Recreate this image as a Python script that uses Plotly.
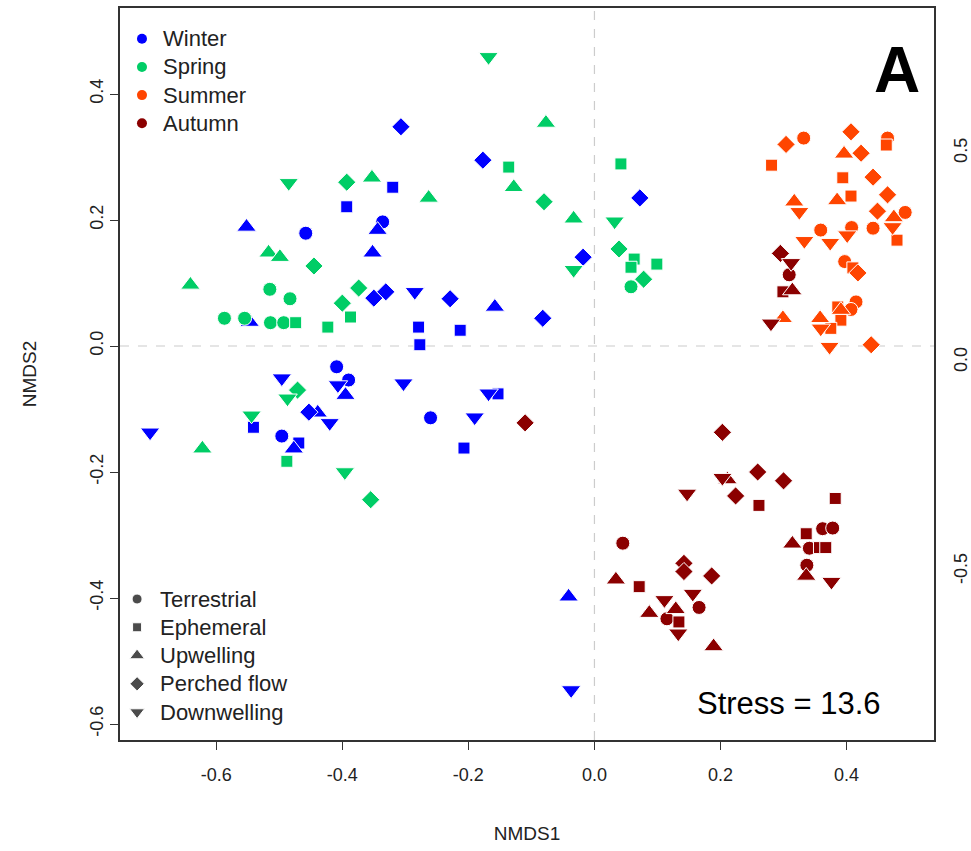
import plotly.graph_objects as go

# ---- NMDS site scores, by season; habitat codes: T, E, U, P, D ----
winter_nmds1 = [-0.458, -0.336, -0.409, -0.390, -0.496, -0.260,
                -0.320, -0.393, -0.279, -0.277, -0.213, -0.541, -0.469, -0.153, -0.207,
                -0.552, -0.344, -0.352, -0.158, -0.547, -0.395, -0.439, -0.477, -0.041,
                -0.307, -0.177, 0.072, -0.018, -0.350, -0.331, -0.229, -0.082, -0.453,
                -0.285, -0.496, -0.407, -0.420, -0.705, -0.303, -0.168, -0.190, -0.037]
winter_nmds2 = [0.179, 0.197, -0.033, -0.054, -0.143, -0.114,
                0.252, 0.221, 0.030, 0.002, 0.025, -0.129, -0.154, -0.076, -0.162,
                0.189, 0.184, 0.148, 0.062, 0.038, -0.078, -0.106, -0.163, -0.398,
                0.348, 0.295, 0.235, 0.141, 0.076, 0.086, 0.075, 0.044, -0.105,
                0.086, -0.051, -0.062, -0.122, -0.137, -0.059, -0.075, -0.113, -0.546]
winter_habitat = ["T"] * 6 + ["E"] * 9 + ["U"] * 9 + ["P"] * 9 + ["D"] * 9

spring_nmds1 = [-0.587, -0.555, -0.515, -0.483, -0.514, -0.493, 0.058,
                -0.474, -0.423, -0.387, -0.136, 0.042, 0.063, 0.058, 0.099, -0.488,
                -0.641, -0.517, -0.499, -0.353, -0.263, -0.128, -0.077, -0.033, -0.622,
                -0.393, -0.445, -0.374, -0.400, -0.080, 0.039, 0.078, -0.471, -0.355,
                -0.485, -0.168, -0.033, 0.032, -0.487, -0.544, -0.396]
spring_nmds2 = [0.044, 0.044, 0.090, 0.075, 0.037, 0.037, 0.094,
                0.037, 0.030, 0.046, 0.284, 0.289, 0.138, 0.125, 0.130, -0.183,
                0.097, 0.148, 0.141, 0.267, 0.235, 0.252, 0.354, 0.202, -0.163,
                0.260, 0.127, 0.092, 0.068, 0.229, 0.154, 0.106, -0.070, -0.244,
                0.259, 0.459, 0.121, 0.198, -0.083, -0.110, -0.200]
spring_habitat = ["T"] * 7 + ["E"] * 9 + ["U"] * 9 + ["P"] * 9 + ["D"] * 7

summer_nmds1 = [0.332, 0.465, 0.493, 0.359, 0.408, 0.442, 0.397, 0.415, 0.407,
                0.281, 0.394, 0.407, 0.480, 0.386, 0.391, 0.375, 0.463, 0.410,
                0.396, 0.385, 0.317, 0.475, 0.299, 0.358, 0.391,
                0.407, 0.304, 0.423, 0.442, 0.465, 0.449, 0.418, 0.439,
                0.325, 0.473, 0.401, 0.333, 0.374, 0.359, 0.373]
summer_nmds2 = [0.330, 0.330, 0.212, 0.184, 0.188, 0.187, 0.134, 0.070, 0.058,
                0.287, 0.267, 0.238, 0.168, 0.062, 0.041, 0.028, 0.319, 0.124,
                0.305, 0.231, 0.229, 0.204, 0.044, 0.044, 0.057,
                0.340, 0.320, 0.306, 0.268, 0.240, 0.214, 0.116, 0.002,
                0.213, 0.189, 0.176, 0.167, 0.164, 0.028, -0.001]
summer_habitat = ["T"] * 9 + ["E"] * 9 + ["U"] * 7 + ["P"] * 8 + ["D"] * 7

autumn_nmds1 = [0.309, 0.045, 0.166, 0.115, 0.362, 0.378, 0.341, 0.337,
                0.299, 0.261, 0.382, 0.336, 0.357, 0.367, 0.071, 0.134,
                0.314, 0.211, 0.314, 0.336, 0.034, 0.087, 0.129, 0.189,
                0.295, -0.110, 0.203, 0.259, 0.300, 0.224, 0.142, 0.186, 0.142,
                0.312, 0.280, 0.203, 0.147, 0.376, 0.111, 0.156, 0.133]
autumn_nmds2 = [0.113, -0.313, -0.415, -0.433, -0.290, -0.289, -0.321, -0.348,
                0.086, -0.253, -0.242, -0.298, -0.320, -0.320, -0.382, -0.438,
                0.088, -0.212, -0.314, -0.365, -0.371, -0.424, -0.418, -0.477,
                0.147, -0.122, -0.137, -0.200, -0.214, -0.238, -0.345, -0.365, -0.358,
                0.132, 0.036, -0.209, -0.234, -0.374, -0.403, -0.393, -0.456]
autumn_habitat = ["T"] * 8 + ["E"] * 8 + ["U"] * 8 + ["P"] * 9 + ["D"] * 8

seasons = ["Winter", "Spring", "Summer", "Autumn"]
season_colors = ["#0000FF", "#00CD66", "#FF4500", "#8B0000"]
habitat_codes = ["T", "E", "U", "P", "D"]
habitat_names = ["Terrestrial", "Ephemeral", "Upwelling", "Perched flow", "Downwelling"]
habitat_symbols = ["circle", "square", "triangle-up", "diamond", "triangle-down"]
habitat_sizes = [14, 12, 17, 14, 17]
habitat_key_sizes = [10, 9, 13, 11, 13]

stress_value = 13.6
panel_letter = "A"

# secondary (right-hand) axis
right_axis_ticks = [-0.5, 0.0, 0.5]
right_axis_labels = ["-0.5", "0.0", "0.5"]
right_axis_range = [-0.904, 0.847]

FONT = "Liberation Sans, Arial, sans-serif"

season_data = [
    (winter_nmds1, winter_nmds2, winter_habitat),
    (spring_nmds1, spring_nmds2, spring_habitat),
    (summer_nmds1, summer_nmds2, summer_habitat),
    (autumn_nmds1, autumn_nmds2, autumn_habitat),
]

fig = go.Figure()

for (xs, ys, habs), season, color in zip(season_data, seasons, season_colors):
    for code, hname, sym, size in zip(habitat_codes, habitat_names, habitat_symbols, habitat_sizes):
        px_ = [x for x, h in zip(xs, habs) if h == code]
        py_ = [y for y, h in zip(ys, habs) if h == code]
        fig.add_trace(go.Scatter(
            x=px_, y=py_, mode="markers", name=f"{season} - {hname}",
            marker=dict(symbol=sym, size=size, color=color,
                        line=dict(color="white", width=1)),
            showlegend=False, hoverinfo="x+y+name"))

# x / y ranges (equal aspect, as in an ordination plot)
x_range = [-0.7527, 0.5387]
y_range = [-0.6254, 0.5365]

# empty trace so the right-hand axis is drawn
fig.add_trace(go.Scatter(x=[0], y=[0], yaxis="y2", mode="markers",
                         marker=dict(opacity=0), showlegend=False, hoverinfo="skip"))

# legend keys placed on a hidden overlay in plot-area fractions
top_key_x, top_text_x = 0.027, 0.050
top_key_y = [0.958 - 0.0385 * i for i in range(len(seasons))]
bot_key_x, bot_text_x = 0.021, 0.047
bot_key_y = [0.1926 - 0.0386 * i for i in range(len(habitat_names))]

fig.add_trace(go.Scatter(
    x=[top_key_x] * len(seasons), y=top_key_y, xaxis="x2", yaxis="y3",
    mode="markers", marker=dict(symbol="circle", size=10, color=season_colors),
    showlegend=False, hoverinfo="skip"))
fig.add_trace(go.Scatter(
    x=[bot_key_x] * len(habitat_names), y=bot_key_y, xaxis="x2", yaxis="y3",
    mode="markers",
    marker=dict(symbol=habitat_symbols, size=habitat_key_sizes, color="black"),
    showlegend=False, hoverinfo="skip"))

annotations = []
for name, yk in zip(seasons, top_key_y):
    annotations.append(dict(x=top_text_x, y=yk, xref="x2 domain", yref="y3 domain",
                            text=name, showarrow=False, xanchor="left", yanchor="middle",
                            font=dict(family=FONT, size=22, color="#222")))
for name, yk in zip(habitat_names, bot_key_y):
    annotations.append(dict(x=bot_text_x, y=yk, xref="x2 domain", yref="y3 domain",
                            text=name, showarrow=False, xanchor="left", yanchor="middle",
                            font=dict(family=FONT, size=22, color="#222")))
annotations.append(dict(x=0.985, y=0.915, xref="paper", yref="paper", text=f"<b>{panel_letter}</b>",
                        showarrow=False, xanchor="right", yanchor="middle",
                        font=dict(family=FONT, size=64, color="black")))
annotations.append(dict(x=0.937, y=0.05, xref="paper", yref="paper",
                        text=f"Stress = {stress_value}", showarrow=False,
                        xanchor="right", yanchor="middle",
                        font=dict(family=FONT, size=31, color="black")))

axis_common = dict(showgrid=False, zeroline=False, ticks="outside", ticklen=8,
                   tickcolor="#333", tickfont=dict(family=FONT, size=18, color="#222"),
                   showline=True, linecolor="#333", linewidth=1.5, automargin=False)

fig.update_layout(
    width=971, height=851,
    margin=dict(l=120, r=37, t=8, b=111),
    plot_bgcolor="white", paper_bgcolor="white",
    showlegend=False,
    xaxis=dict(range=x_range, tickvals=[-0.6, -0.4, -0.2, 0.0, 0.2, 0.4],
               ticktext=["-0.6", "-0.4", "-0.2", "0.0", "0.2", "0.4"], mirror=True,
               ticklabelstandoff=10,
               title=dict(text="NMDS1", font=dict(family=FONT, size=19, color="#222"), standoff=42),
               **axis_common),
    yaxis=dict(range=y_range, tickvals=[-0.6, -0.4, -0.2, 0.0, 0.2, 0.4],
               ticktext=["-0.6", "-0.4", "-0.2", "0.0", "0.2", "0.4"], tickangle=-90, mirror=True,
               title=dict(text="NMDS2", font=dict(family=FONT, size=19, color="#222"), standoff=45),
               **axis_common),
    yaxis2=dict(overlaying="y", side="right", range=right_axis_range,
                tickvals=right_axis_ticks, ticktext=right_axis_labels, tickangle=-90,
                showgrid=False, zeroline=False, ticks="", showline=False,
                ticklabelstandoff=14, automargin=False,
                tickfont=dict(family=FONT, size=18, color="#222")),
    xaxis2=dict(overlaying="x", range=[0, 1], visible=False),
    yaxis3=dict(overlaying="y", range=[0, 1], visible=False),
    annotations=annotations,
    shapes=[
        dict(type="line", xref="x", yref="paper", x0=0, x1=0, y0=0, y1=1,
             line=dict(color="#cccccc", width=1.2, dash="dash"), layer="below"),
        dict(type="line", xref="paper", yref="y", x0=0, x1=1, y0=0, y1=0,
             line=dict(color="#cccccc", width=1.2, dash="dash"), layer="below"),
    ],
)

fig.write_html("out.html")
